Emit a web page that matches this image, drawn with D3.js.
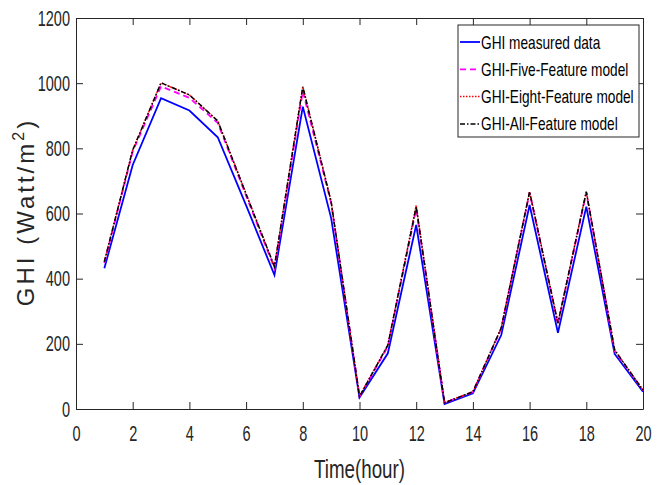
<!DOCTYPE html>
<meta charset="utf-8">
<head>
  <script src="https://d3js.org/d3.v7.min.js"></script>
  <style>
    body { margin: 0; background: #fff; }
    svg { display: block; background: #fff; }
    text { font-family: "Liberation Sans", Arial, sans-serif; }
  </style>
</head>
<body>
<div id="my_dataviz"></div>
<script>
// data
var hours = [1,2,3,4,5,6,7,8,9,10,11,12,13,14,15,16,17,18,19,20];
var measured = [432,749,954,916,834,625,411,928,586,35,171,565,15,48,227,626,234,621,169,53];
var fiveFeature = [448,790,990,955,878,655,432,975,632,38,192,615,19,52,247,664,260,664,178,57];
var eightFeature = [452,795,1001,964,884,660,437,989,636,40,196,625,20,53,249,667,262,667,181,58];
var allFeature = [452,795,1001,964,884,660,437,989,636,38,196,621,19,53,249,667,264,667,181,58];
var xTicks = [0,2,4,6,8,10,12,14,16,18,20];
var yTicks = [0,200,400,600,800,1000,1200];
var legendLabels = ["GHI measured data", "GHI-Five-Feature model", "GHI-Eight-Feature model", "GHI-All-Feature model"];

var margin = {top: 18, right: 20, bottom: 76, left: 76},
    width = 663 - margin.left - margin.right,
    height = 485 - margin.top - margin.bottom;

var svg = d3.select("#my_dataviz")
  .append("svg")
    .attr("width", 663)
    .attr("height", 485)
  .append("g")
    .attr("transform", "translate(" + margin.left + "," + margin.top + ")");

var x = d3.scaleLinear().domain([0, 20]).range([0, width]);
var y = d3.scaleLinear().domain([0, 1200]).range([height, 0]);

// tick labels are condensed like the original (Arial Narrow look)
var tickK = 0.66;
function styleAxis(g) {
  g.select(".domain").attr("stroke", "#262626");
  g.selectAll(".tick line").attr("stroke", "#262626");
  g.selectAll("text")
    .style("font-size", "22px")
    .attr("fill", "#262626")
    .attr("transform", "scale(" + tickK + ",1)");
}
svg.append("g")
  .attr("transform", "translate(0," + height + ")")
  .call(d3.axisBottom(x).tickValues(xTicks).tickSizeInner(-7).tickSizeOuter(0).tickPadding(16))
  .call(styleAxis);
svg.append("g")
  .call(d3.axisLeft(y).tickValues(yTicks).tickFormat(d3.format("d")).tickSizeInner(-7).tickSizeOuter(0).tickPadding(6))
  .call(styleAxis)
  .selectAll("text").attr("x", -6 / tickK);
svg.append("g")
  .call(d3.axisTop(x).tickValues(xTicks).tickSizeInner(-7).tickSizeOuter(0).tickFormat(""))
  .call(styleAxis);
svg.append("g")
  .attr("transform", "translate(" + width + ",0)")
  .call(d3.axisRight(y).tickValues(yTicks).tickSizeInner(-7).tickSizeOuter(0).tickFormat(""))
  .call(styleAxis);

// lines
var series = [
  {vals: measured, color: "#0000ff", w: 1.8, dash: null},
  {vals: fiveFeature, color: "#ff00ff", w: 1.8, dash: "6,4"},
  {vals: eightFeature, color: "#ff0000", w: 1.5, dash: "1.5,1.5"},
  {vals: allFeature, color: "#000000", w: 1.5, dash: "5,2,1.5,2"}
];
var line = d3.line()
  .x(function(d) { return x(d[0]); })
  .y(function(d) { return y(d[1]); });

series.forEach(function(s) {
  svg.append("path")
    .datum(hours.map(function(h, i) { return [h, s.vals[i]]; }))
    .attr("fill", "none")
    .attr("stroke", s.color)
    .attr("stroke-width", s.w)
    .attr("stroke-dasharray", s.dash)
    .attr("d", line);
});

// axis labels
svg.append("text")
  .attr("transform", "translate(" + (width / 2) + "," + (height + 69) + ")scale(0.75,1)")
  .attr("text-anchor", "middle")
  .style("font-size", "25px")
  .attr("fill", "#262626")
  .text("Time(hour)");

var yl = svg.append("text")
  .attr("transform", "translate(-42,194)rotate(-90)")
  .attr("text-anchor", "middle")
  .style("font-size", "24px")
  .style("letter-spacing", "3px")
  .attr("fill", "#262626");
yl.append("tspan").text("GHI (Watt/m");
yl.append("tspan").attr("dy", -10).style("font-size", "16px").text("2");
yl.append("tspan").attr("dy", 10).text(")");

// legend
var lg = svg.append("g").attr("transform", "translate(" + (458 - margin.left) + "," + (25 - margin.top) + ")");
lg.append("rect")
  .attr("width", 181)
  .attr("height", 112)
  .attr("fill", "#fff")
  .attr("stroke", "#262626")
  .attr("stroke-width", 1);
series.forEach(function(s, i) {
  var yy = 17 + i * 27.3;
  lg.append("line")
    .attr("x1", 2).attr("x2", 22)
    .attr("y1", yy).attr("y2", yy)
    .attr("stroke", s.color)
    .attr("stroke-width", s.w)
    .attr("stroke-dasharray", s.dash);
  lg.append("text")
    .attr("transform", "translate(23," + (yy + 6.5) + ")scale(0.76,1)")
    .style("font-size", "18px")
    .attr("fill", "#000")
    .text(legendLabels[i]);
});
</script>
</body>
